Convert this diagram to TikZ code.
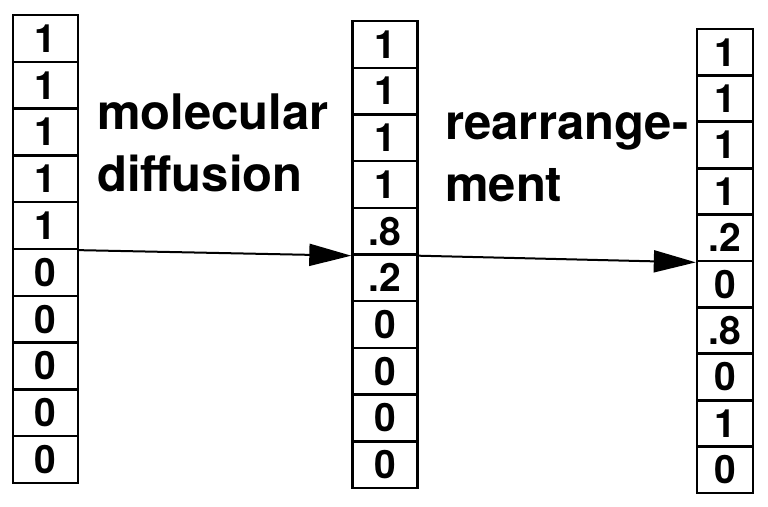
\documentclass[tikz,border=0pt]{standalone}
\usepackage{fontspec}
\setsansfont{TeX Gyre Heros}
\usetikzlibrary{arrows.meta,positioning}
\tikzset{
  every picture/.style={font=\sffamily\bfseries, text=black},
  cell box/.style={draw=black, line width=2.4pt, minimum width=65pt,
    minimum height=46.7pt, inner sep=0pt,
    font=\sffamily\bfseries\fontsize{39}{39}\selectfont},
  narrow cell/.style={cell box, minimum width=56pt},
  flow arrow/.style={-{Triangle[length=42pt,width=22pt]},
    draw=black, line width=2pt},
  step label/.style={align=left, anchor=base west, inner sep=0pt,
    font=\sffamily\bfseries\fontsize{49}{62}\selectfont}
}

\begin{document}
\begin{tikzpicture}[x=1pt,y=-1pt]
  \useasboundingbox (0,0) rectangle (768,506);
  % initial profile
  \foreach \v [count=\i] in {1,1,1,1,1,0,0,0,0,0}
    \node[cell box] (a-\i) at (45.5,{15+46.8*(\i-0.5)}) {\v};
  % after diffusion
  \foreach \v [count=\i] in {1,1,1,1,.8,.2,0,0,0,0}
    \node[cell box] (b-\i) at (385,{21+46.7*(\i-0.5)}) {\v};
  % after rearrangement
  \foreach \v [count=\i] in {1,1,1,1,.2,0,.8,0,1,0}
    \node[narrow cell] (c-\i) at (725,{29+46.4*(\i-0.5)}) {\v};
  % labels (base = last line)
  \node[step label] (diff) at (97,191) {molecular\\diffusion};
  \node[step label] (rearr) at (445,201) {rearrange-\\ment};
  \draw[flow arrow] (a-5.south east) -- (b-5.south west);
  \draw[flow arrow] (b-5.south east) -- (c-5.south west);
\end{tikzpicture}
\end{document}
